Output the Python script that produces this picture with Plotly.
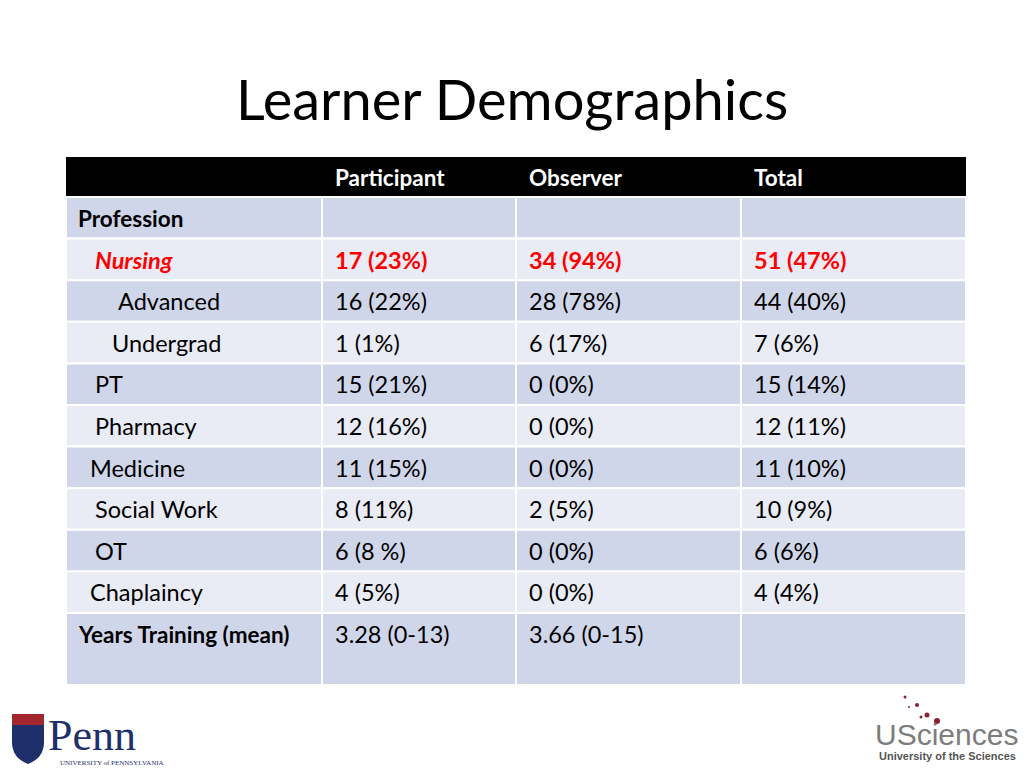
import plotly.graph_objects as go

# table content
columns = ["", "Participant", "Observer", "Total"]
row_labels = ["Profession", "Nursing", "Advanced", "Undergrad", "PT", "Pharmacy",
              "Medicine", "Social Work", "OT", "Chaplaincy", "Years Training (mean)"]
label_indent = [10, 27, 50, 44, 27, 27, 22, 27, 27, 22, 10]
participant = ["", "17 (23%)", "16 (22%)", "1 (1%)", "15 (21%)", "12 (16%)",
               "11 (15%)", "8 (11%)", "6 (8 %)", "4 (5%)", "3.28 (0-13)"]
observer = ["", "34 (94%)", "28 (78%)", "6 (17%)", "0 (0%)", "0 (0%)",
            "0 (0%)", "2 (5%)", "0 (0%)", "0 (0%)", "3.66 (0-15)"]
total = ["", "51 (47%)", "44 (40%)", "7 (6%)", "15 (14%)", "12 (11%)",
         "11 (10%)", "10 (9%)", "6 (6%)", "4 (4%)", ""]

col_edges = [66, 322, 516, 741, 966]
header_top, header_bottom = 157, 197
row_h = 41.6
last_row_h = 72
FONT = "Lato, 'Open Sans', sans-serif"
FS = 23.5

fig = go.Figure()
shapes = []
ann = []

# header
shapes.append(dict(type="rect", x0=col_edges[0], x1=col_edges[-1], y0=header_top, y1=header_bottom,
                   fillcolor="black", line_width=0, layer="below"))
for i, c in enumerate(columns):
    if c:
        ann.append(dict(x=col_edges[i] + 11, y=(header_top + header_bottom) / 2, text="<b>%s</b>" % c,
                        xanchor="left", yanchor="middle", showarrow=False,
                        font=dict(family=FONT, size=FS - 1, color="white")))

y = header_bottom
for r, lab in enumerate(row_labels):
    h = last_row_h if r == len(row_labels) - 1 else row_h
    fill = "#d0d6ea" if r % 2 == 0 else "#e9ebf5"
    for c in range(4):
        shapes.append(dict(type="rect", x0=col_edges[c], x1=col_edges[c + 1], y0=y, y1=y + h,
                           fillcolor=fill, line=dict(color="white", width=2), layer="below"))
    red = lab == "Nursing"
    color = "#ff0000" if red else "#000000"
    if r in (0, len(row_labels) - 1):
        txt = "<b>%s</b>" % lab
    elif red:
        txt = "<b><i>%s</i></b>" % lab
    else:
        txt = lab
    ty = y + 21
    ann.append(dict(x=col_edges[0] + label_indent[r], y=ty, text=txt, xanchor="left", yanchor="middle",
                    showarrow=False, font=dict(family=FONT, size=FS - (1 if r in (0, 10) else 0), color=color)))
    for c, vals in enumerate([participant, observer, total]):
        v = vals[r]
        if v:
            ann.append(dict(x=col_edges[c + 1] + 11, y=ty, text="<b>%s</b>" % v if red else v,
                            xanchor="left", yanchor="middle", showarrow=False,
                            font=dict(family=FONT, size=FS, color=color)))
    y += h

# title
ann.append(dict(x=512, y=98, text="Learner Demographics", xanchor="center", yanchor="middle",
                showarrow=False, font=dict(family=FONT, size=56, color="black")))

# Penn logo (approximation)
shapes.append(dict(type="path", path="M 12 714 L 44 714 L 44 742 Q 44 758 28 764 Q 12 758 12 742 Z",
                   fillcolor="#1f2f6b", line_width=0))
shapes.append(dict(type="rect", x0=12, x1=44, y0=714, y1=725, fillcolor="#a3262e", line_width=0))
ann.append(dict(x=46, y=735, text="Penn", xanchor="left", yanchor="middle", showarrow=False,
                font=dict(family="Liberation Serif", size=44, color="#1f2f6b")))
ann.append(dict(x=58, y=763, text="UNIVERSITY of PENNSYLVANIA", xanchor="left", yanchor="middle",
                showarrow=False, font=dict(family="Liberation Serif", size=7, color="#1f2f6b")))

# USciences logo (approximation)
ann.append(dict(x=1020, y=734, text="USciences", xanchor="right", yanchor="middle", showarrow=False,
                font=dict(family="Liberation Sans Narrow, Liberation Sans", size=30, color="#7d7d7d")))
ann.append(dict(x=1018, y=756, text="<b>University of the Sciences</b>", xanchor="right", yanchor="middle",
                showarrow=False, font=dict(family="Liberation Sans Narrow, Liberation Sans", size=11, color="#555555")))
for dx, dy, s in [(0, 0, 3), (12, 8, 4), (22, 18, 5), (32, 24, 6), (4, 10, 2), (16, 20, 3)]:
    shapes.append(dict(type="circle", x0=905 + dx - s / 2, x1=905 + dx + s / 2, y0=697 + dy - s / 2,
                       y1=697 + dy + s / 2, fillcolor="#8a2232", line_width=0))

fig.update_layout(
    width=1024, height=768, margin=dict(l=0, r=0, t=0, b=0),
    paper_bgcolor="white", plot_bgcolor="white",
    xaxis=dict(range=[0, 1024], visible=False, fixedrange=True),
    yaxis=dict(range=[768, 0], visible=False, fixedrange=True),
    shapes=shapes, annotations=ann, showlegend=False,
)
fig.write_html("out.html", config={"displayModeBar": False},
               post_script="document.body.style.margin='0';document.body.style.overflow='hidden';")
